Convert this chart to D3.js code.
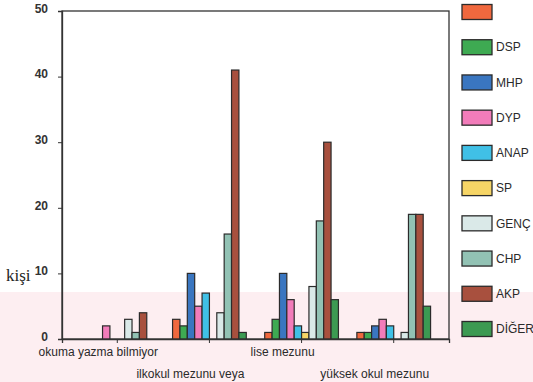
<!DOCTYPE html>
<html>
<head>
<meta charset="utf-8">
<script src="https://cdn.jsdelivr.net/npm/d3@7"></script>
<style>
  html, body { margin: 0; padding: 0; background: #ffffff; }
  svg { display: block; }
</style>
</head>
<body>
<svg id="chart" width="533" height="382"></svg>
<script>
// ---- data ----
const categories = ["okuma yazma bilmiyor", "ilkokul mezunu veya", "lise mezunu", "yüksek okul mezunu"];
const seriesNames = ["", "DSP", "MHP", "DYP", "ANAP", "SP", "GENÇ", "CHP", "AKP", "DİĞER"];
const seriesColors = ["#f0683e", "#3eaa52", "#3a76c0", "#f27cba", "#40c0e6", "#f6d566", "#dae9e8", "#92c2b4", "#a8503e", "#3c9a52"];
const valOkuma   = [0, 0, 0, 2, 0, 0, 3, 1, 4, 0];
const valIlkokul = [3, 2, 10, 5, 7, 0, 4, 16, 41, 1];
const valLise    = [1, 3, 10, 6, 2, 1, 8, 18, 30, 6];
const valYuksek  = [1, 1, 2, 3, 2, 0, 1, 19, 19, 5];
const yTicks = [0, 10, 20, 30, 40, 50];
const yLabel = "kişi";

const groupValues = [valOkuma, valIlkokul, valLise, valYuksek];
const rows = categories.map((c, i) => ({ cat: c, values: groupValues[i] }));

// ---- layout ----
const svg = d3.select("#chart");
const plot = { left: 62, right: 449, top: 11, bottom: 339 };

// faint watermark band from the scanned page
svg.append("rect").attr("x", 0).attr("y", 292).attr("width", 533).attr("height", 90)
  .attr("fill", "#fdeef1");

const x0 = d3.scaleBand().domain(categories).range([plot.left, plot.right])
  .paddingInner(0.2).paddingOuter(0.2);
const x1 = d3.scaleBand().domain(d3.range(seriesNames.length)).range([0, x0.bandwidth()]);
const y = d3.scaleLinear().domain([0, 50]).range([plot.bottom, plot.top]);

// frame
svg.append("rect")
  .attr("x", plot.left).attr("y", plot.top)
  .attr("width", plot.right - plot.left).attr("height", plot.bottom - plot.top)
  .attr("fill", "none").attr("stroke", "#333").attr("stroke-width", 1.3);

// bars
const g = svg.append("g");
rows.forEach(r => {
  g.selectAll(null)
    .data(r.values.map((v, i) => ({ v, i })).filter(d => d.v > 0))
    .enter().append("rect")
    .attr("x", d => x0(r.cat) + x1(d.i))
    .attr("y", d => y(d.v))
    .attr("width", x1.bandwidth())
    .attr("height", d => y(0) - y(d.v))
    .attr("fill", d => seriesColors[d.i])
    .attr("stroke", "#2b2b2b")
    .attr("stroke-width", 1.2);
});

// y axis
const yAxis = d3.axisLeft(y).tickValues(yTicks).tickSize(4).tickPadding(10);
const ya = svg.append("g").attr("transform", `translate(${plot.left},0)`).call(yAxis);
ya.select(".domain").attr("stroke", "#333").attr("stroke-width", 1.3);
ya.selectAll(".tick line").attr("stroke", "#333");
ya.selectAll(".tick text")
  .attr("font-family", "Liberation Sans, Arial, sans-serif")
  .attr("font-size", 12).attr("font-weight", "bold").attr("fill", "#333")
  .attr("dy", "0.1em");

// x axis ticks
const xAxis = d3.axisBottom(x0).tickSize(4).tickFormat("");
const xa = svg.append("g").attr("transform", `translate(0,${plot.bottom})`).call(xAxis);
xa.select(".domain").attr("stroke", "#333").attr("stroke-width", 1.3);
xa.selectAll(".tick line").attr("stroke", "#333");

// category labels (staggered)
svg.selectAll(".catlab").data(categories).enter().append("text")
  .attr("x", d => x0(d) + x0.bandwidth() / 2 - 19)
  .attr("y", (d, i) => i % 2 === 0 ? 356 : 378)
  .attr("text-anchor", "middle")
  .attr("font-family", "Liberation Sans, Arial, sans-serif")
  .attr("font-size", 12).attr("fill", "#2a2a2a")
  .text(d => d);

// y label
svg.append("text").attr("x", 6).attr("y", 281)
  .attr("font-family", "Liberation Serif, Times New Roman, serif")
  .attr("font-size", 17).attr("fill", "#222")
  .text(yLabel);

// legend
const legY = d3.scalePoint().domain(d3.range(seriesNames.length)).range([12, 329]);
const leg = svg.selectAll(".leg").data(seriesNames).enter().append("g")
  .attr("transform", (d, i) => `translate(462,${legY(i)})`);
leg.append("rect").attr("x", 0).attr("y", -7.5).attr("width", 30).attr("height", 15)
  .attr("fill", (d, i) => seriesColors[i]).attr("stroke", "#2b2b2b").attr("stroke-width", 1.3);
leg.append("text").attr("x", 34).attr("y", 0).attr("dy", "0.35em")
  .attr("font-family", "Liberation Sans, Arial, sans-serif")
  .attr("font-size", 12).attr("fill", "#2a2a2a")
  .text(d => d);
</script>
</body>
</html>
